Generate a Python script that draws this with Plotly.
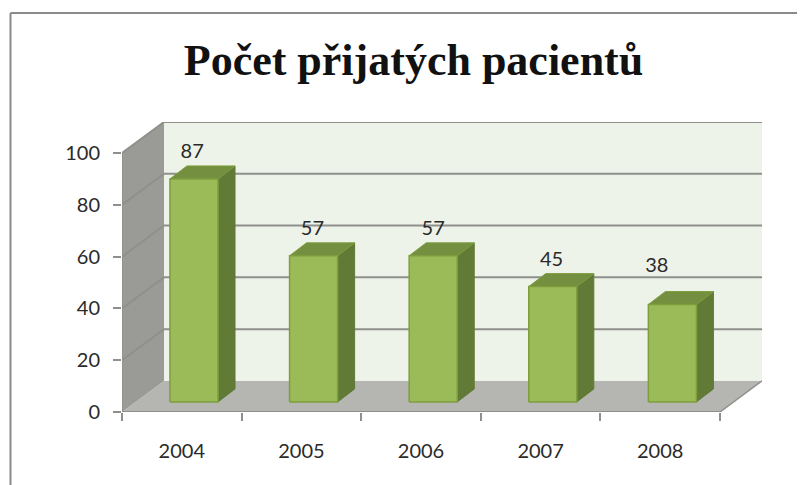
import plotly.graph_objects as go

years = ["2004", "2005", "2006", "2007", "2008"]
patients = [87, 57, 57, 45, 38]
y_ticks = [0, 20, 40, 60, 80, 100]
title_text = "Počet přijatých pacientů"
label_shift_x = [-0.015, -0.01, 0.0, -0.01, -0.13]
label_shift_y = [0, 0, 0, 0, 4.5]

# the page body adds an 8 px margin, so every pixel position is expressed minus 8
PAGE = 8
W, H = 805 - PAGE, 485 - PAGE
L, R, T, B = 122 - PAGE, 762 - PAGE, 122 - PAGE, 412 - PAGE
n = len(years)
cat_px = 119.6
xmax = (R - L) / cat_px
ymax = 112.0
wall_dx, wall_dy = xmax - n, 12.0
bar_l, bar_r, bar_base = 0.401, 0.803, 3.9
bar_scale = 0.99
bar_dx, bar_dy = 0.142, 5.0

WALL, FLOOR, BACK = "#9A9B96", "#B5B6B1", "#EEF3EA"
GRID = "#8F908B"
FRONT, TOP, SIDE, EDGE = "#9BBB59", "#738F3F", "#617A36", "#7E9E3E"
TEXT = "#2A2A2A"

fig = go.Figure()


def poly(xs, ys, fill, line=None, width=0):
    fig.add_trace(go.Scatter(
        x=xs + xs[:1], y=ys + ys[:1], mode="lines", fill="toself", fillcolor=fill,
        line=dict(color=line or fill, width=width if line else 0),
        hoverinfo="skip", showlegend=False, cliponaxis=False))


def seg(xs, ys, color=GRID, width=1.5):
    fig.add_trace(go.Scatter(
        x=xs, y=ys, mode="lines", line=dict(color=color, width=width),
        hoverinfo="skip", showlegend=False, cliponaxis=False))


poly([wall_dx, xmax, xmax, wall_dx], [wall_dy, wall_dy, ymax, ymax], BACK)
poly([0, wall_dx, xmax, n], [0, wall_dy, wall_dy, 0], FLOOR)
poly([0, wall_dx, wall_dx, 0], [0, wall_dy, ymax, 100], WALL)

for v in y_ticks[1:]:
    seg([0, wall_dx, xmax], [v, v + wall_dy, v + wall_dy], width=2)
seg([0, n], [0, 0], width=2)
seg([0, 0], [0, 100], width=1.5)
seg([n, xmax], [0, wall_dy], width=1.5)

for i, v in enumerate(patients):
    x0, x1 = i + bar_l, i + bar_r
    y0 = bar_base
    y1 = bar_base + v * bar_scale
    poly([x1, x1 + bar_dx, x1 + bar_dx, x1], [y0, y0 + bar_dy, y1 + bar_dy, y1], SIDE, SIDE, 1)
    poly([x0, x1, x1 + bar_dx, x0 + bar_dx], [y1, y1, y1 + bar_dy, y1 + bar_dy], TOP, EDGE, 1)
    poly([x0, x1, x1, x0], [y0, y0, y1, y1], FRONT, EDGE, 1.5)

label_x = [i + (bar_l + bar_r) / 2 + label_shift_x[i] for i in range(n)]
label_y = [bar_base + v * bar_scale + 10 + label_shift_y[i] for i, v in enumerate(patients)]
fig.add_trace(go.Scatter(
    x=label_x, y=label_y, mode="text", text=[str(v) for v in patients],
    textposition="middle center", textfont=dict(family="Lato", size=20, color=TEXT),
    hoverinfo="skip", showlegend=False, cliponaxis=False))

# invisible trace that carries the category labels axis
fig.add_trace(go.Scatter(x=[0], y=[0], xaxis="x2", mode="markers", opacity=0,
                         hoverinfo="skip", showlegend=False))

px = lambda p: (p - PAGE - L) / (R - L)
py = lambda p: (B - (p - PAGE)) / (B - T)
frame = dict(color="#8A8A8A", width=2)
shapes = [
    dict(type="line", xref="paper", yref="paper", x0=px(10.5), x1=px(10.5), y0=py(13), y1=py(485), line=frame, layer="above"),
    dict(type="line", xref="paper", yref="paper", x0=px(10.5), x1=px(805), y0=py(13), y1=py(13), line=frame, layer="above"),
]

fig.update_layout(
    width=W, height=H, autosize=False,
    margin=dict(l=L, r=W - R, t=T, b=H - B),
    paper_bgcolor="white", plot_bgcolor="rgba(0,0,0,0)",
    font=dict(family="Lato", size=20, color=TEXT),
    title=dict(text=title_text, x=(413.5 - PAGE) / W, xanchor="center", xref="container",
               y=1 - (60 - PAGE) / H, yanchor="middle",
               font=dict(family="Liberation Serif", size=44, color="#111111", weight="bold")),
    xaxis=dict(range=[0, xmax], tickmode="array", tickvals=list(range(n + 1)),
               ticktext=[""] * (n + 1), ticks="outside", ticklen=8, tickwidth=2, tickcolor=GRID,
               showgrid=False, zeroline=False, showline=False),
    xaxis2=dict(range=[0, xmax], overlaying="x", side="bottom", anchor="y",
                tickmode="array", tickvals=[i + 0.5 for i in range(n)], ticktext=years,
                ticks="outside", ticklen=21, tickcolor="rgba(0,0,0,0)",
                showgrid=False, zeroline=False, showline=False),
    yaxis=dict(range=[0, ymax], tickmode="array", tickvals=y_ticks, ticks="outside",
               ticklen=8, tickwidth=2, tickcolor=GRID, ticklabelstandoff=9,
               showgrid=False, zeroline=False, showline=False),
    shapes=shapes,
)

fig.write_html("out.html")
